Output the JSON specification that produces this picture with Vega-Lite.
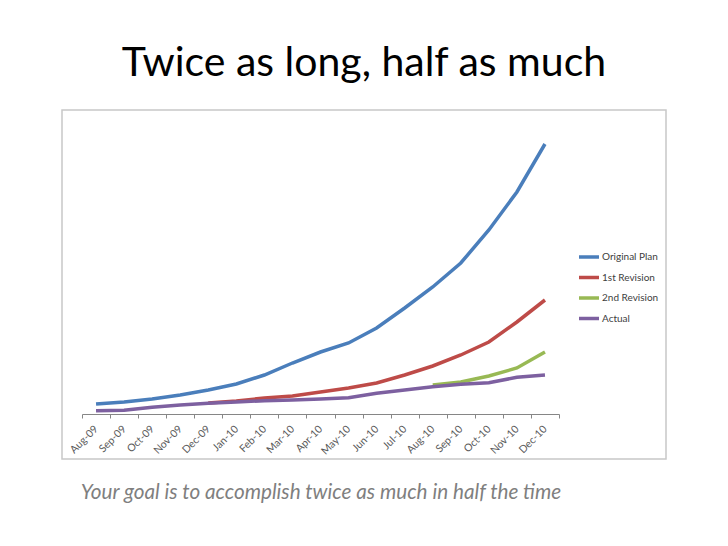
{
  "$schema": "https://vega.github.io/schema/vega-lite/v6.json",
  "width": 604,
  "height": 349,
  "autosize": {"type": "none"},
  "padding": {"left": 62, "top": 110, "right": 62, "bottom": 87},
  "background": "white",
  "title": {
    "text": "Twice as long, half as much",
    "font": "Lato",
    "fontSize": 41,
    "fontWeight": "normal",
    "color": "#000000",
    "anchor": "middle",
    "baseline": "alphabetic",
    "offset": -7
  },
  "config": {"view": {"stroke": "#c8c8c8", "strokeWidth": 1.5}},
  "data": {
    "values": [
      {"month": "Aug-09", "series": "Original Plan", "value": 10},
      {"month": "Sep-09", "series": "Original Plan", "value": 12},
      {"month": "Oct-09", "series": "Original Plan", "value": 15},
      {"month": "Nov-09", "series": "Original Plan", "value": 19},
      {"month": "Dec-09", "series": "Original Plan", "value": 24},
      {"month": "Jan-10", "series": "Original Plan", "value": 30},
      {"month": "Feb-10", "series": "Original Plan", "value": 39},
      {"month": "Mar-10", "series": "Original Plan", "value": 51},
      {"month": "Apr-10", "series": "Original Plan", "value": 62},
      {"month": "May-10", "series": "Original Plan", "value": 71},
      {"month": "Jun-10", "series": "Original Plan", "value": 86},
      {"month": "Jul-10", "series": "Original Plan", "value": 106},
      {"month": "Aug-10", "series": "Original Plan", "value": 127},
      {"month": "Sep-10", "series": "Original Plan", "value": 151},
      {"month": "Oct-10", "series": "Original Plan", "value": 184},
      {"month": "Nov-10", "series": "Original Plan", "value": 222},
      {"month": "Dec-10", "series": "Original Plan", "value": 270},
      {"month": "Dec-09", "series": "1st Revision", "value": 11},
      {"month": "Jan-10", "series": "1st Revision", "value": 13},
      {"month": "Feb-10", "series": "1st Revision", "value": 16},
      {"month": "Mar-10", "series": "1st Revision", "value": 18},
      {"month": "Apr-10", "series": "1st Revision", "value": 22},
      {"month": "May-10", "series": "1st Revision", "value": 26},
      {"month": "Jun-10", "series": "1st Revision", "value": 31},
      {"month": "Jul-10", "series": "1st Revision", "value": 39},
      {"month": "Aug-10", "series": "1st Revision", "value": 48},
      {"month": "Sep-10", "series": "1st Revision", "value": 59},
      {"month": "Oct-10", "series": "1st Revision", "value": 72},
      {"month": "Nov-10", "series": "1st Revision", "value": 92},
      {"month": "Dec-10", "series": "1st Revision", "value": 114},
      {"month": "Aug-10", "series": "2nd Revision", "value": 29},
      {"month": "Sep-10", "series": "2nd Revision", "value": 32},
      {"month": "Oct-10", "series": "2nd Revision", "value": 38},
      {"month": "Nov-10", "series": "2nd Revision", "value": 46},
      {"month": "Dec-10", "series": "2nd Revision", "value": 62},
      {"month": "Aug-09", "series": "Actual", "value": 3.3},
      {"month": "Sep-09", "series": "Actual", "value": 3.7},
      {"month": "Oct-09", "series": "Actual", "value": 6.7},
      {"month": "Nov-09", "series": "Actual", "value": 9},
      {"month": "Dec-09", "series": "Actual", "value": 10.7},
      {"month": "Jan-10", "series": "Actual", "value": 12},
      {"month": "Feb-10", "series": "Actual", "value": 13.3},
      {"month": "Mar-10", "series": "Actual", "value": 14},
      {"month": "Apr-10", "series": "Actual", "value": 15},
      {"month": "May-10", "series": "Actual", "value": 16.3},
      {"month": "Jun-10", "series": "Actual", "value": 20.7},
      {"month": "Jul-10", "series": "Actual", "value": 24},
      {"month": "Aug-10", "series": "Actual", "value": 27.3},
      {"month": "Sep-10", "series": "Actual", "value": 29.7},
      {"month": "Oct-10", "series": "Actual", "value": 31.3},
      {"month": "Nov-10", "series": "Actual", "value": 36.7},
      {"month": "Dec-10", "series": "Actual", "value": 39}
    ]
  },
  "mark": {"type": "line", "strokeWidth": 3.5, "interpolate": "linear"},
  "encoding": {
    "x": {
      "field": "month",
      "type": "ordinal",
      "sort": ["Aug-09", "Sep-09", "Oct-09", "Nov-09", "Dec-09", "Jan-10", "Feb-10", "Mar-10", "Apr-10", "May-10", "Jun-10", "Jul-10", "Aug-10", "Sep-10", "Oct-10", "Nov-10", "Dec-10"],
      "scale": {"type": "band", "range": [20, 497], "paddingInner": 0, "paddingOuter": 0},
      "axis": {
        "title": "Your goal is to accomplish twice as much in half the time",
        "titleFont": "Lato",
        "titleFontStyle": "italic",
        "titleFontWeight": "normal",
        "titleFontSize": 20.7,
        "titleColor": "#7f7f7f",
        "titleBaseline": "alphabetic",
        "titleY": 84,
        "titleAnchor": "middle",
        "offset": -45,
        "tickBand": "extent",
        "domainColor": "#868686",
        "tickColor": "#868686",
        "tickSize": 4,
        "labelAngle": -45,
        "labelAlign": "right",
        "labelBaseline": "middle",
        "labelFont": "Lato",
        "labelFontSize": 10.5,
        "labelColor": "#595959",
        "labelPadding": 9,
        "labelOverlap": false,
        "grid": false
      }
    },
    "y": {
      "field": "value",
      "type": "quantitative",
      "scale": {"domain": [0, 280], "range": [304, 24]},
      "axis": null
    },
    "color": {
      "field": "series",
      "type": "nominal",
      "scale": {
        "domain": ["Original Plan", "1st Revision", "2nd Revision", "Actual"],
        "range": ["#4a7ebb", "#be4b48", "#98b954", "#7d60a0"]
      },
      "legend": {
        "title": null,
        "orient": "none",
        "legendX": 515,
        "legendY": 135,
        "symbolType": "stroke",
        "symbolSize": 400,
        "symbolStrokeWidth": 3.5,
        "rowPadding": 1.5,
        "labelOffset": 1,
        "labelFont": "Lato",
        "labelFontSize": 10,
        "labelColor": "#404040"
      }
    }
  }
}
